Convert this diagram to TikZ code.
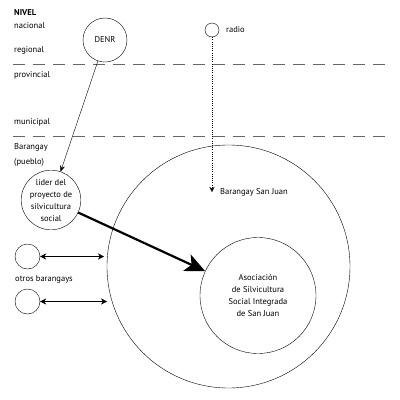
\documentclass[tikz,border=0pt]{standalone}
\usepackage{fontspec}
\setmainfont{PT Sans}
\usetikzlibrary{arrows.meta}

\tikzset{
  org/.style={draw,circle,inner sep=0pt,align=center,font=\fontsize{8.5}{12}\selectfont},
  nivel/.style={anchor=west,inner sep=0pt,font=\fontsize{8.5}{10}\selectfont},
  limite/.style={gray!80!black,dash pattern=on 12pt off 8pt,line width=0.7pt}
}

\begin{document}
\begin{tikzpicture}[x=1pt,y=-1pt]
				\useasboundingbox (0,0) rectangle (400,400);
				% levels on the left
				\node[nivel,font=\fontsize{8.5}{10}\selectfont\bfseries] (nivel) at (14,13) {NIVEL};
				\node[nivel] (nac) at (14,26) {nacional};
				\node[nivel] (reg) at (14,50) {regional};
				\node[nivel] (prov) at (14,75) {provincial};
				\node[nivel] (mun) at (14,122) {municipal};
				\node[nivel,align=left,font=\fontsize{8.5}{14.5}\selectfont] (bar) at (14,155) {Barangay\\(pueblo)};
				% the two dashed borders
				\coordinate (l1a) at (13,64);
				\coordinate (l1b) at (388,64);
				\coordinate (l2a) at (13,136);
				\coordinate (l2b) at (388,136);
				\draw[limite] (l1a) -- (l1b);
				\draw[limite] (l2a) -- (l2b);
				% the barangay and the association
				\node[org,minimum size=243pt] (sanjuan) at (228.5,266.5) {};
				\node[org,minimum size=116pt] (asoc) at (258,295.5) {Asociación\\de Silvicultura\\Social Integrada\\de San Juan};
				% outside actors
				\node[org,minimum size=44pt] (denr) at (105,40) {DENR};
				\node[org,minimum size=14pt] (radio) at (212,30) {};
				\node[nivel] (radiot) at (226,30) {radio};
				\node[org,minimum size=58pt] (lider) at (51,200) {líder del\\proyecto de\\silvicultura\\social};
				\node[org,minimum size=25pt] (otro1) at (27.5,256.5) {};
				\node[org,minimum size=25pt] (otro2) at (27.5,301.5) {};
				\node[nivel] (otros) at (15,279) {otros barangays};
				\node[nivel] (sjt) at (220,192) {Barangay San Juan};
				\coordinate (sjp) at (212,192);
				\coordinate (e1) at (104,256.5);
				\coordinate (e2) at (107,301.5);
				% links
				\draw[-{Stealth[length=6pt,width=5pt]},thin] (denr) -- (lider);
				\draw[line width=0.3pt,dash pattern=on 1pt off 1.2pt,-{Stealth[length=5pt,width=5pt]}] (radio) -- (sjp);
				\draw[line width=2.2pt,-{Stealth[length=20pt,width=18pt,inset=5pt]}] (lider) -- (asoc);
				\draw[{Stealth[length=6pt,width=6pt]}-{Stealth[length=6pt,width=6pt]},thin] (otro1) -- (e1);
				\draw[{Stealth[length=6pt,width=6pt]}-{Stealth[length=6pt,width=6pt]},thin] (otro2) -- (e2);
\end{tikzpicture}
\end{document}
